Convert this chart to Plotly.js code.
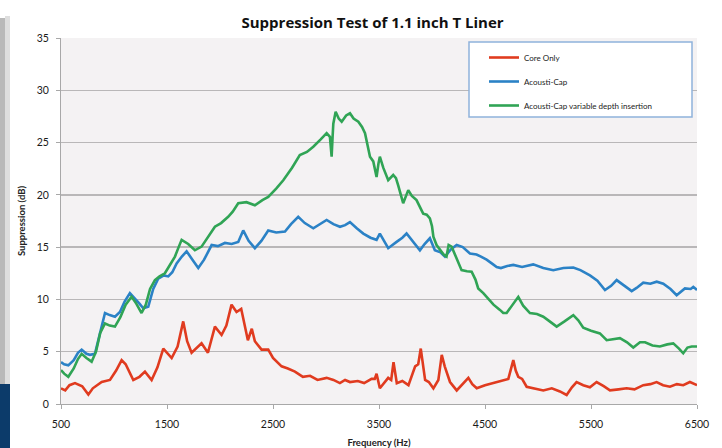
<!DOCTYPE html>
<html>
<head>
<meta charset="utf-8">
<script src="https://cdn.plot.ly/plotly-3.0.1.min.js"></script>
<style>html,body{margin:0;padding:0;background:#fff;}#chart{width:722px;height:448px;}</style>
</head>
<body>
<div id="chart"></div>
<script>
// ---- data ----
const seriesNames = ["Core Only", "Acousti-Cap", "Acousti-Cap variable depth insertion"];

const coreFreq = [500,540,580,632,700,758,800,884,962,1020,1072,1110,1182,1240,1292,1355,1410,1465,1544,1600,1653,1690,1732,1790,1826,1886,1952,2015,2060,2109,2156,2200,2235,2263,2300,2329,2392,2455,2500,2581,2640,2707,2782,2850,2920,3006,3070,3131,3180,3226,3300,3360,3430,3460,3477,3508,3587,3615,3637,3668,3720,3778,3841,3870,3894,3915,3935,3970,4013,4060,4092,4120,4170,4233,4290,4343,4380,4422,4500,4579,4650,4720,4767,4790,4814,4850,4893,4970,5050,5130,5207,5270,5320,5364,5427,5490,5553,5620,5679,5760,5836,5910,5993,6060,6119,6180,6245,6310,6370,6433,6500];
const coreVals = [1.5,1.3,1.8,2.0,1.7,0.9,1.5,2.1,2.3,3.2,4.2,3.8,2.3,2.6,3.1,2.3,3.5,5.3,4.4,5.5,7.9,6.0,4.9,5.5,5.8,4.9,7.4,6.6,7.5,9.5,8.8,9.1,7.6,6.1,7.2,6.0,5.2,5.2,4.4,3.6,3.4,3.1,2.6,2.7,2.3,2.5,2.3,2.0,2.3,2.1,2.2,2.0,2.4,2.4,2.9,1.5,2.5,2.3,4.0,2.0,2.2,1.8,3.6,3.8,5.3,3.5,2.3,2.1,1.5,2.3,4.7,3.6,2.1,1.3,1.9,2.5,1.9,1.5,1.8,2.0,2.2,2.4,4.2,3.2,2.6,2.4,1.65,1.5,1.3,1.5,1.2,0.86,1.6,2.1,1.8,1.6,2.1,1.7,1.3,1.4,1.5,1.4,1.8,1.9,2.1,1.8,1.65,1.9,1.8,2.1,1.8];

const capFreq = [500,530,569,620,660,695,740,773,820,860,900,915,960,1009,1056,1100,1150,1198,1240,1276,1323,1370,1418,1470,1512,1550,1591,1640,1685,1740,1795,1850,1921,1980,2046,2110,2172,2219,2270,2329,2390,2455,2530,2613,2670,2738,2800,2880,2940,3006,3070,3132,3180,3226,3290,3352,3420,3477,3508,3550,3587,3666,3720,3760,3820,3886,3930,3980,4027,4080,4122,4180,4233,4290,4358,4420,4462,4515,4570,4610,4650,4710,4767,4850,4955,5050,5144,5240,5333,5400,5490,5560,5632,5690,5742,5800,5884,5930,5993,6060,6120,6182,6250,6308,6350,6386,6440,6465,6500];
const capVals = [4.0,3.8,3.7,4.2,4.9,5.2,4.8,4.7,4.8,6.5,8.3,8.7,8.5,8.35,8.8,9.8,10.6,10.1,9.6,9.15,9.3,11.0,12.0,12.3,12.2,12.6,13.45,14.1,14.6,13.8,13.0,13.8,15.2,15.1,15.4,15.3,15.5,16.6,15.6,14.9,15.6,16.6,16.4,16.5,17.2,17.9,17.3,16.8,17.2,17.6,17.2,16.95,17.1,17.4,16.8,16.3,15.9,15.7,16.3,15.5,14.9,15.5,15.9,16.3,15.5,14.7,15.3,15.85,14.7,14.5,14.1,14.8,15.2,15.0,14.4,14.3,14.1,13.8,13.4,13.1,13.0,13.2,13.3,13.1,13.35,13.0,12.8,13.0,13.05,12.8,12.3,11.8,10.9,11.3,11.85,11.4,10.8,11.1,11.6,11.5,11.7,11.5,11.0,10.4,10.8,11.05,11.0,11.2,10.9];

const varFreq = [500,530,569,620,660,695,740,789,830,870,915,960,1009,1060,1110,1166,1210,1260,1300,1340,1386,1430,1480,1530,1575,1610,1638,1700,1763,1826,1890,1952,2010,2077,2120,2172,2250,2329,2400,2455,2530,2597,2680,2753,2820,2880,2950,3006,3037,3053,3062,3069,3091,3120,3148,3190,3226,3260,3305,3340,3368,3395,3415,3446,3465,3477,3495,3508,3540,3587,3634,3660,3681,3700,3728,3776,3810,3854,3890,3917,3950,3980,4000,4013,4043,4079,4110,4137,4157,4185,4230,4279,4330,4374,4410,4436,4484,4515,4580,4641,4672,4704,4760,4814,4860,4924,4990,5050,5110,5176,5250,5333,5380,5427,5500,5584,5648,5700,5773,5840,5899,5962,6010,6080,6150,6220,6276,6330,6370,6410,6450,6500];
const varVals = [3.25,2.9,2.6,3.4,4.3,4.8,4.4,4.05,5.0,6.8,7.7,7.5,7.4,8.3,9.5,10.25,9.6,8.7,9.5,11.0,11.85,12.2,12.5,13.3,14.1,15.0,15.7,15.3,14.7,15.05,16.0,16.95,17.3,17.9,18.4,19.2,19.3,19.0,19.5,19.8,20.6,21.4,22.6,23.8,24.1,24.6,25.3,25.9,25.55,23.65,25.5,26.8,27.95,27.3,27.0,27.6,27.8,27.3,27.0,26.5,25.9,24.5,23.65,23.2,22.4,21.7,23.0,23.65,22.6,21.4,21.9,21.6,20.9,20.2,19.2,20.45,19.9,19.5,18.8,18.2,18.1,17.75,17.0,16.0,15.2,14.7,14.3,14.1,15.2,15.05,13.9,12.8,12.7,12.65,11.9,11.05,10.6,10.25,9.5,9.0,8.7,8.7,9.5,10.25,9.4,8.7,8.6,8.35,7.9,7.4,7.9,8.5,8.0,7.3,7.0,6.75,6.1,6.2,6.3,5.9,5.4,5.9,5.9,5.6,5.5,5.7,5.8,5.3,4.85,5.4,5.5,5.5];

const xTicks = [500,1500,2500,3500,4500,5500,6500];
const yTicks = [0,5,10,15,20,25,30,35];

// ---- chart ----
const FONT = "Lato, 'Open Sans', sans-serif";
const TFONT = "'Open Sans', Lato, sans-serif";
const colors = ["#e03b1f", "#2b82c6", "#30a455"];
const xs = [coreFreq, capFreq, varFreq];
const ys = [coreVals, capVals, varVals];

const traces = seriesNames.map((n, i) => ({
  type: "scatter", mode: "lines", name: n,
  x: xs[i], y: ys[i], legendgroup: "g" + i,
  line: {color: colors[i], width: 2.6}
}));

// pixel -> paper helpers for decoration
const L = 61, R = 697, T = 38, B = 404;
const px = v => (v - L) / (R - L);
const py = v => (B - v) / (B - T);

const layout = {
  width: 722, height: 448,
  margin: {l: L, r: 722 - R, t: T, b: 448 - B},
  paper_bgcolor: "#ffffff",
  plot_bgcolor: "#f4f2f3",
  font: {family: FONT, color: "#222"},
  title: {text: "<b>Suppression Test of 1.1 inch T Liner</b>", font: {size: 15, family: TFONT, color: "#111"},
          x: 0.516, xanchor: "center", y: 0.95, yanchor: "middle"},
  showlegend: true,
  legend: {x: px(484), xanchor: "left", y: py(43), yanchor: "top",
           bgcolor: "rgba(0,0,0,0)", borderwidth: 0, font: {size: 8, family: FONT, color: "#222"},
           traceorder: "grouped", tracegroupgap: 5},
  xaxis: {range: [500, 6500], tickmode: "array", tickvals: xTicks, ticktext: xTicks.map(String),
          showgrid: false, zeroline: false, showline: true, linecolor: "#a8a8a8", linewidth: 1,
          ticks: "outside", ticklen: 4, tickcolor: "#a8a8a8", ticklabelstandoff: 6,
          tickfont: {size: 10.5, family: FONT, color: "#1a1a1a"},
          title: {text: "<b>Frequency (Hz)</b>", font: {size: 9.5, family: FONT, color: "#222"}, standoff: 10}},
  yaxis: {range: [0, 35], tickmode: "array", tickvals: yTicks, ticktext: yTicks.map(String),
          showgrid: true, gridcolor: "#b9b7b8", gridwidth: 1.3, zeroline: false,
          showline: true, linecolor: "#a8a8a8", linewidth: 1,
          ticks: "outside", ticklen: 4, tickcolor: "#a8a8a8", ticklabelstandoff: 5,
          tickfont: {size: 10.5, family: FONT, color: "#1a1a1a"},
          title: {text: "<b>Suppression (dB)</b>", font: {size: 9.5, family: FONT, color: "#222"}, standoff: 9}},
  shapes: [
    // left grey shadow of the frame
    {type: "rect", xref: "paper", yref: "paper", layer: "below", x0: px(0), x1: px(5), y0: py(384), y1: py(18),
     fillcolor: "#b9b9b9", line: {width: 0}},
    {type: "rect", xref: "paper", yref: "paper", layer: "below", x0: px(5), x1: px(10), y0: py(384), y1: py(16),
     fillcolor: "#dedede", line: {width: 0}},
    // dark blue backdrop bottom-left
    {type: "rect", xref: "paper", yref: "paper", layer: "below", x0: px(0), x1: px(10), y0: py(448), y1: py(384),
     fillcolor: "#0c3b6a", line: {width: 0}},
    // legend box
    {type: "rect", xref: "paper", yref: "paper", layer: "above", x0: px(469), x1: px(692), y0: py(117), y1: py(42),
     fillcolor: "#ffffff", line: {color: "#8fb3dc", width: 1.5}}
  ]
};

Plotly.newPlot("chart", traces, layout, {displayModeBar: false, staticPlot: true});
</script>
</body>
</html>
